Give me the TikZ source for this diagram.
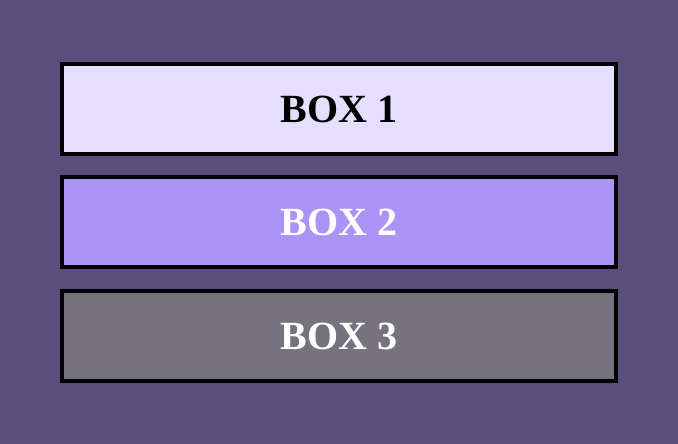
\documentclass[tikz,border=0pt]{standalone}
\usepackage{fontspec}
\setmainfont{Liberation Serif}
\definecolor{bg}{HTML}{5A4F7C}
\definecolor{boxa}{HTML}{E6DEFF}
\definecolor{boxb}{HTML}{AB94F5}
\definecolor{boxc}{HTML}{76737E}
\tikzset{
  panel/.style={draw=black, line width=4pt, minimum width=554pt, minimum height=90pt,
    inner sep=0pt, font=\fontsize{40}{40}\selectfont\bfseries, anchor=center}
}
\begin{document}
\begin{tikzpicture}[x=1pt,y=-1pt]
\fill[bg] (0,0) rectangle (678,444);
\useasboundingbox (0,0) rectangle (678,444);
\node[panel, fill=boxa, text=black] (b1) at (339,109) {BOX 1};
\node[panel, fill=boxb, text=white] (b2) at (339,222) {BOX 2};
\node[panel, fill=boxc, text=white] (b3) at (339,336) {BOX 3};
\end{tikzpicture}
\end{document}
